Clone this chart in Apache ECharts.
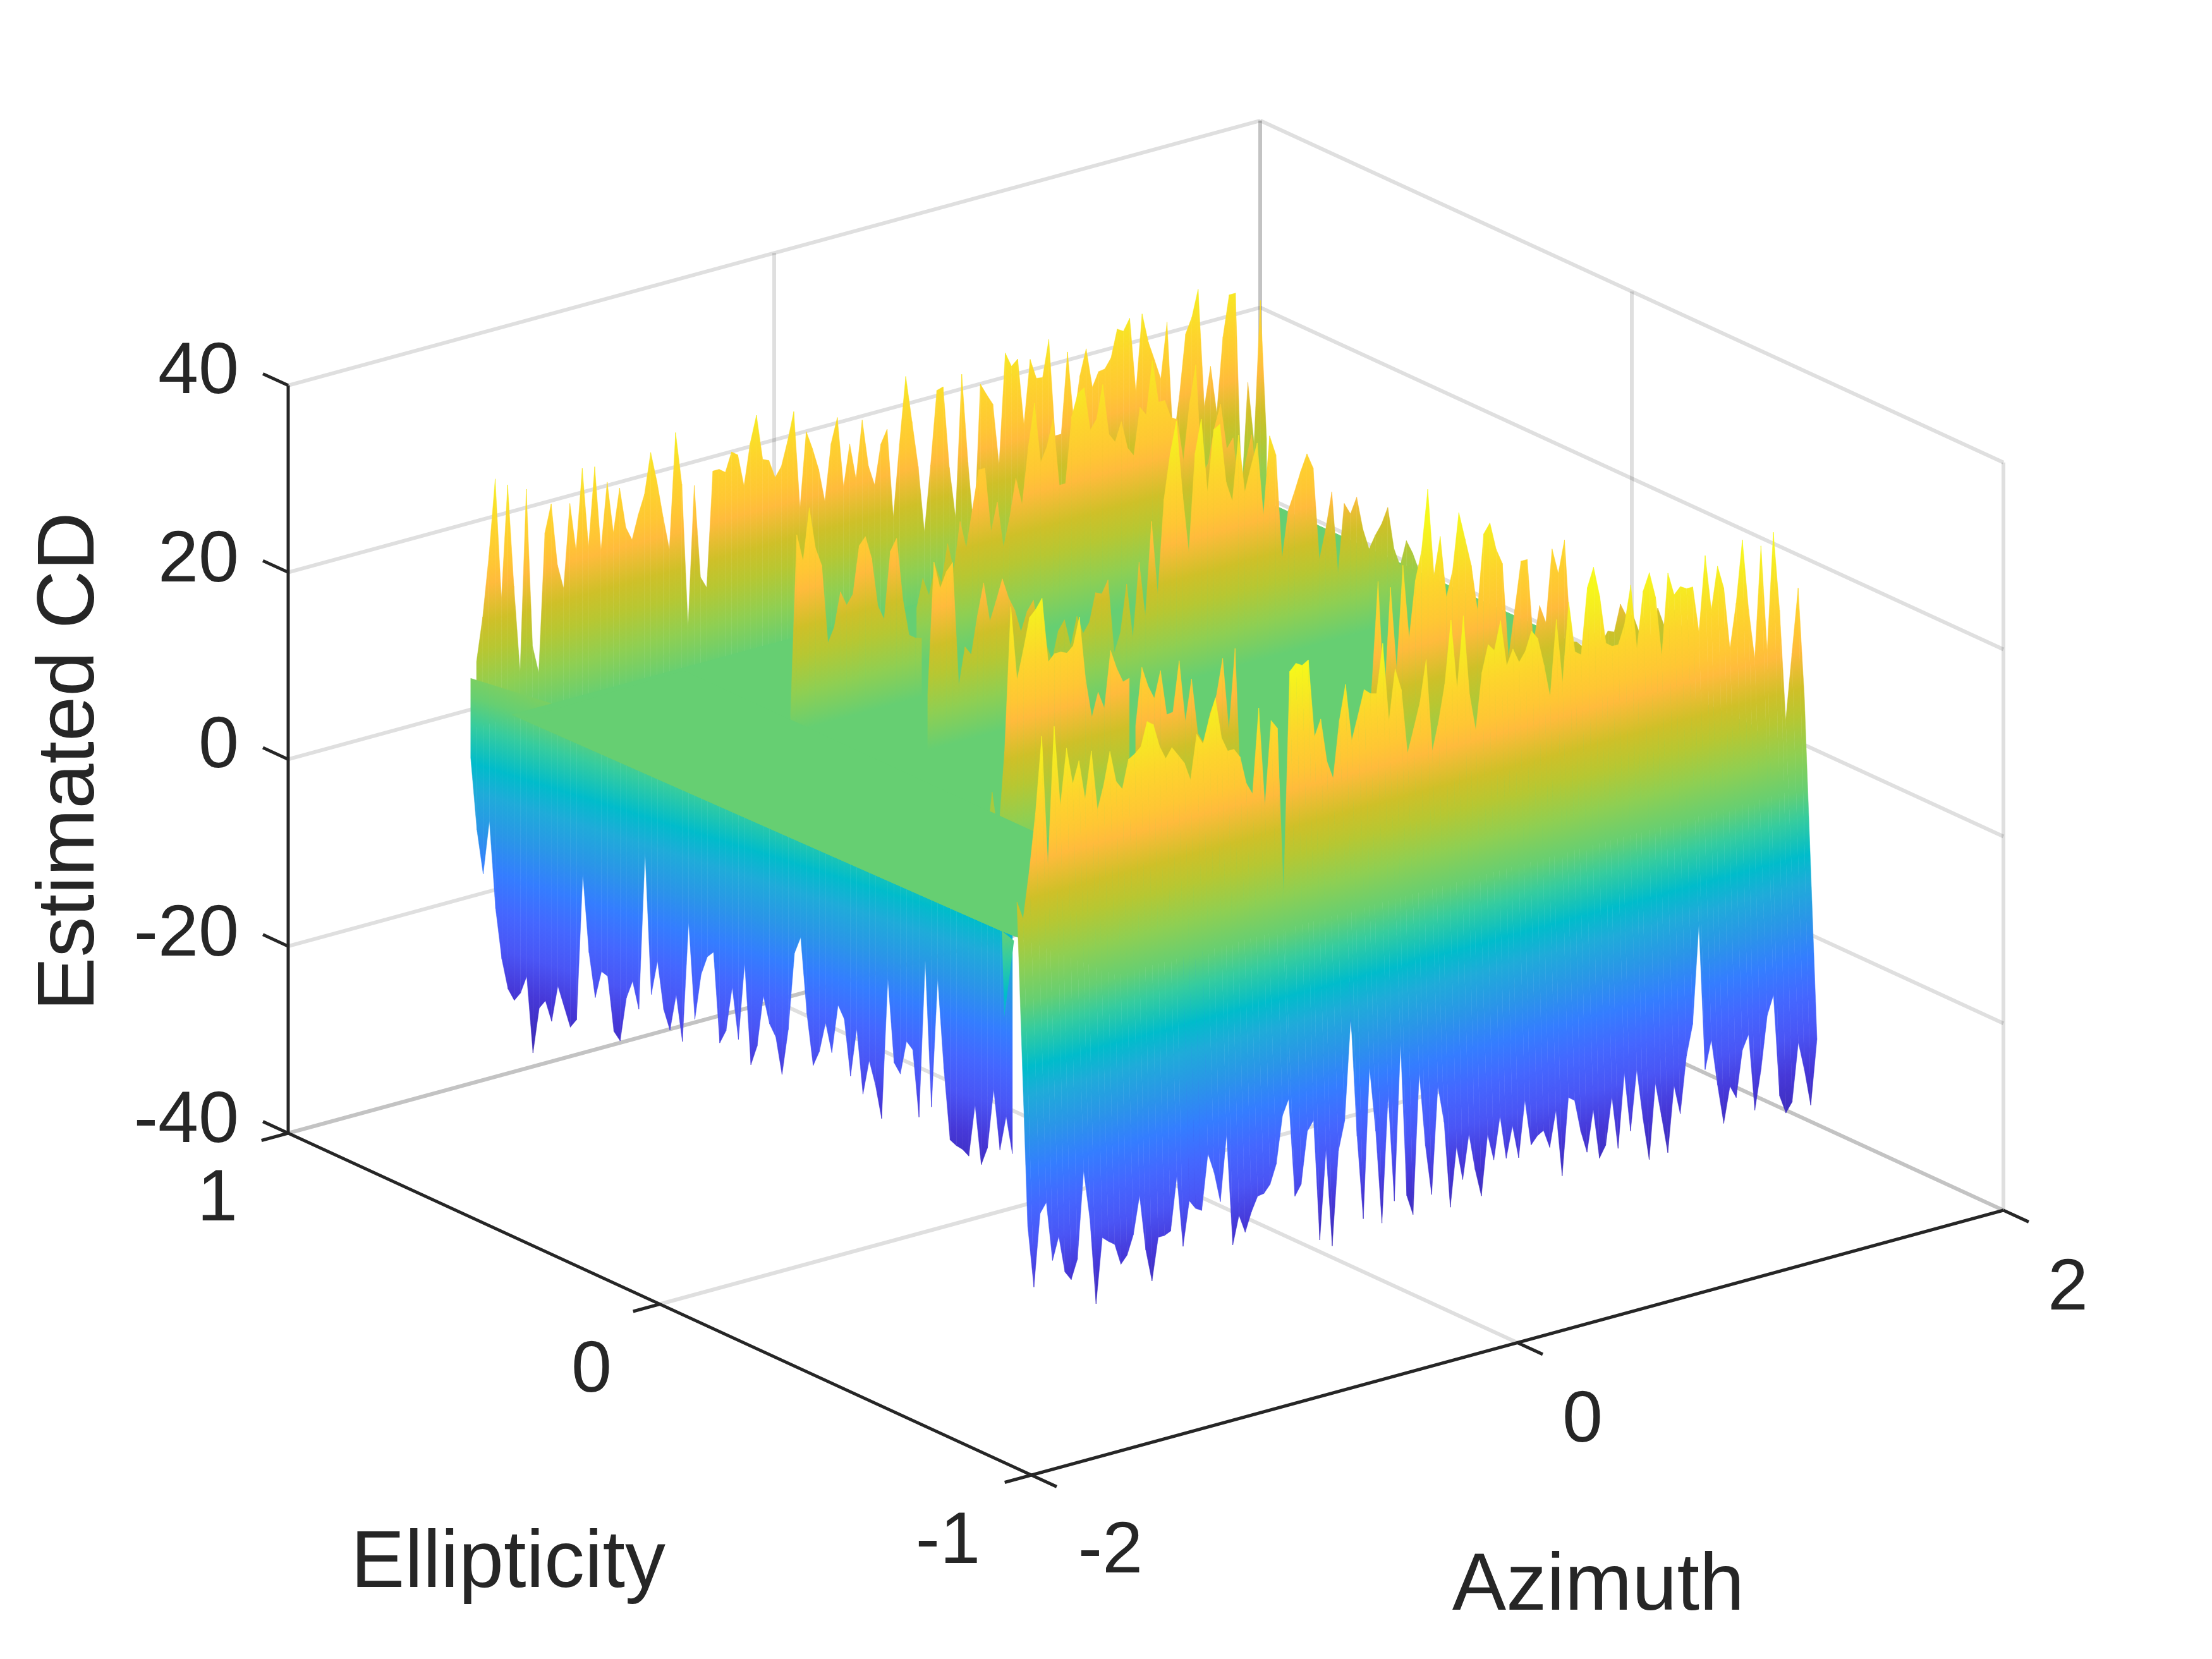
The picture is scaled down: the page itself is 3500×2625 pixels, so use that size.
<!DOCTYPE html>
<html>
<head>
<meta charset="utf-8">
<title>Estimated CD surface</title>
<style>html,body{margin:0;padding:0;background:#fff}#chart{width:3500px;height:2625px}</style>
<script src="https://cdn.jsdelivr.net/npm/echarts@6/dist/echarts.min.js"></script>
</head>
<body>
<div id="chart"></div>
<script>
// ---------- tick labels ----------
const azimuthTicks = [-2, 0, 2];
const ellipticityTicks = [-1, 0, 1];
const cdTicks = [-40, -20, 0, 20, 40];

// ---------- surface values (Estimated CD) ----------
const rearRow = [7,11.6,18,26,13,25,14,4.6,24,7,4,18.8,21.7,15,12.3,21.2,16,24.6,16,24.4,15.3,22.4,16.8,21.4,17,15.5,18,20,24.3,21,17,13.4,25.7,20,4.5,19.5,9.5,8.2,20.5,20.5,20,22,21.5,18,22.4,25.2,20.3,20,18,19,21.5,24.5,14,22,20,17.6,14,20,22.6,15,19.4,15.5,21.6,16.5,14.3,18.5,19.9,10.3,18,25,20,15,7.8,14.8,22.6,22.8,14,8.5,23.6,14,6,22,20.7,19.5,12.8,24.6,23,23.6,16.4,23.2,21,20.9,24.8,14.3,14.3,22.9,15.4,20,22.7,18.4,19.9,20,21,23.9,23.5,24.7,16.6,24.8,21.6,19.5,17.3,23.2,10,15,21.4,23,25.8,13,17.2,12,20,24.3,24.3,2.6,14.4,7.7,22.8,7.8];
const rearInnerRow = [6,9,7,10,8,12,9,14,11,15,19,19,12,15,10,13,17,14,20,24.5,18,19.5,22.3,15,15,22,24.3,24.7,20,21,24.5,19,18,20,17,16,21,20,25.6,21,21,19,18.6,14,20,23.9,12,13,16.6,19,14,15,9,12,14.8,9];
const middleLeftRow = [2,21,18,23.5,19,17,8.5,10,13.6,12,13,18,18.8,16.3,11,9.4,16.5,17.7,11,7,6.5,6.3];
const middleRow = [6,20,17,18.6,19.4,6,10,9,13,16.3,12,14,16.2,14,12.5,10,12,13,9,8,6,9,10,7,10,8,9,12,11.7,13,5,7,12,6,14,8,18,10,20,24.7,28,20,13.6,24,27.5,19.5,26,26.4,20,17.8,24.7,18.4,21,23.3,15.4,23.7,21.5,10.2,15.2,17,19,20.7,19,9,12,15.9,7,14.3,13,14.6,11,8.7,10,11,12.6,8,6,8.5,7,5];
const forwardLeftRow = [2,8,3,12,27.3,19.3,22.3,25.6,26.3,27.3,20.3,21,21,20.7,21.3,24.2,17.3,13.1,15.6,13.7,19.7,17.6,16,16.2];
const forwardRow = [14.6,20.7,18.5,17,19.8,14.9,15,20.3,13.6,18,12,10.7,13.8,15.5,19.3,11.4,20,3,0,0,0,0,0,0,0,0,0,0,0,0,0,0,0,0,0,0,2,5,12,23,10,22,13,24,16,22,25,31.4,22,26,19.3,22,28,25,22,17,25,26,23,21.3,11,16,21,21,11.8,15.7,13.7,21.4,18.6,22,11,10.7,10,12,11,10,11,10.7,13.5,12,12,10,11,9,12,10,12,11,9,10,8.4];
const frontRowUpper = [11,9,14,20,28,14,28.7,20,26,22,24.3,20,25,18.5,21,24.4,21,20,23,23.4,24,26.5,26,23.5,22,23,22,21,19,23.7,22.5,25,27,22.6,21,21,20,17,15.7,24.7,14,23,22,4,27.7,28.4,28,28.4,20,21.7,17,15,21,24.7,18.5,21,23.6,23,22.8,28,19.5,24.9,22.5,15.5,18,20.6,25,15,18,21.8,28.5,21,28.6,20,16,22,24.8,24,27,22,23.6,22,23,25,24,21,17.4,25.5,18.5,27,21.5,21,28,30,26.7,21.5,21,21,23,27,20,26,27.8,25,18.5,27.2,24.7,25.4,25,25,20,28,22,26.5,24,17.3,22,28.6,21,15.5,27.4,16,28.5,20,8,15,21.8,10];
const frontRowLower = [-24,-30.7,-23,-22,-28.4,-26,-30,-31,-29,-19.7,-25,-34.3,-27.4,-28,-28.5,-30.8,-30,-28,-24,-30,-33.5,-29,-29,-28.7,-23,-30.7,-26,-27,-27.4,-21.5,-23.7,-27,-20,-32,-29,-31,-29,-27.5,-27.4,-26.6,-24.6,-19.6,-18,-28.6,-27.5,-22,-21,-34,-24.5,-35,-25,-22,-11,-24,-33,-17,-24,-34,-20.5,-32,-15.4,-31.8,-34,-19,-27,-32.4,-21,-25,-34.3,-28,-31.7,-27,-31,-34,-27.6,-30.5,-26,-30.7,-27.4,-31,-25,-30,-29.2,-28.8,-30.8,-27,-34.2,-26,-26.5,-30,-32.4,-28,-33.4,-32.2,-27.2,-32.9,-25,-31.4,-25,-30.4,-35,-27,-30.8,-34.8,-27.8,-31,-25,-21.8,-11.3,-27,-24,-29,-33.3,-29.5,-30.9,-26,-24.5,-32.8,-28.6,-23,-21,-32,-34,-33,-26.8,-30,-33.9,-27];
const sideRowLower = [-6.5,-14,-18.5,-12.6,-21.8,-27,-30,-31,-30,-28,-36,-31,-30,-32,-28,-30,-32,-31,-15.2,-23.4,-28,-25,-25.3,-31,-31.8,-27,-25,-27.8,-10.8,-25.8,-22,-27,-29,-25,-29.8,-16.8,-27,-22,-19.9,-19.2,-28.7,-27.2,-22.3,-27.7,-19.3,-30,-27.8,-22.2,-25,-26.2,-30,-25,-16.6,-14.7,-22.7,-28,-26.3,-23,-26,-20.7,-22,-27.9,-22.6,-29.4,-25.6,-28,-31.4,-16.2,-25,-26,-22.3,-23,-30,-13,-28.5,-14.5,-24,-31.4,-31.8,-32,-32.5,-26.8,-33,-31,-24.5,-30.8,-27,-30.8];
const forwardHangLower = [-30,-37.5,-38.5,-38.9,-30];
const forwardHangRim = -10;
const sideRowRim = 2;
const plateauLevel = 0;
const plateauCorners = [[-1.17,0.94],[1.976,0.94],[1.976,-0.345],[1.70,-0.62],[-1.07,-0.62],[-1.12,-0.345]];
const wedgeCorners = [[-1.17,0.913],[-0.48,0.93],[-0.48,-0.62],[-1.07,-0.62],[-1.12,-0.345]];
const cornerSliver = [[-1.12,-0.345,0],[-1.11,-0.345,-9.3],[-1.07,-0.345,-1.4]];
const notchSliver = [[0.48,-0.227,-19],[0.495,-0.227,-19],[0.506,-0.227,-26]];

// ---------- colour scale: value -> colour ----------
const colourValues = [-40,-36,-30,-26,-22,-18,-14,-10,-7,-3,0,4,8,11,15,17,21,25,28,32];
const colourHex = ['#38249f','#3a28b0','#4638d8','#4a55f5','#4467ff','#347dff','#2a95e8','#1fabd9','#00bccb','#36cc9e','#66cf72','#8fcf52','#b7c732','#cfc028','#ffbb3c','#ffc634','#fdd52c','#f6ea22','#f6f81a','#f6f81a'];
const zLo = -40, zHi = 32;
const colourStops = colourValues.map((v, i) => ({offset: (v - zLo) / (zHi - zLo), color: colourHex[i]}));

// ---------- view: azimuth, ellipticity, CD -> page position ----------
function project(a, e, z) {
  return [1632 + 384.5 * (a + 2) - 588 * (e + 1),
          2334 - 104.75 * (a + 2) - 270.5 * (e + 1) - 14.79 * (z + 40)];
}
function zFill(api, from, to) {
  const p0 = project(from[0], from[1], 0), p1 = project(to[0], to[1], 0);
  let dx = p1[0] - p0[0], dy = p1[1] - p0[1];
  const len = Math.hypot(dx, dy); dx /= len; dy /= len;
  const nx = -dy, ny = dx;
  const s = project(from[0], from[1], zLo), t = project(from[0], from[1], zHi);
  const d = (t[0] - s[0]) * nx + (t[1] - s[1]) * ny;
  const a = api.coord(s), b = api.coord([s[0] + nx * d, s[1] + ny * d]);
  return {type: 'linear', x: a[0], y: a[1], x2: b[0], y2: b[1], global: true, colorStops: colourStops};
}

function rowSeries(upper, lower, top, bottom) {
  const n = upper.length;
  const m = Array.isArray(lower) ? lower.length : n;
  const lowAt = i => Array.isArray(lower) ? lower[i] : lower;
  const at = (r, i, c) => {
    const u = i / (c - 1);
    return [r.a0 + (r.a1 - r.a0) * u, r.e0 + (r.e1 - r.e0) * u];
  };
  return {
    type: 'custom', coordinateSystem: 'cartesian2d', clip: false, silent: true, animation: false,
    data: upper.map((v, i) => [i, v]),
    renderItem(params, api) {
      const i = params.dataIndex;
      if (i >= n - 1) return null;
      const t0 = at(top, i, n), t1 = at(top, i + 1, n);
      const b0 = at(bottom, i, m), b1 = at(bottom, i + 1, m);
      const pts = [
        project(t0[0], t0[1], upper[i]), project(t1[0], t1[1], upper[i + 1]),
        project(b1[0], b1[1], lowAt(i + 1)), project(b0[0], b0[1], lowAt(i))
      ].map(p => api.coord(p));
      const fill = zFill(api, [top.a0, top.e0], [top.a1, top.e1]);
      return {type: 'polygon', shape: {points: pts}, style: {fill, stroke: fill, lineWidth: 0.5}};
    }
  };
}
function flatSeries(corners, level) {
  return {
    type: 'custom', coordinateSystem: 'cartesian2d', clip: false, silent: true, animation: false,
    data: [[0, level]],
    renderItem(params, api) {
      return {type: 'polygon', shape: {points: corners.map(c => api.coord(project(c[0], c[1], level)))},
        style: {fill: '#66cf72', stroke: '#66cf72', lineWidth: 1}};
    }
  };
}
function sliverSeries(points) {
  return {
    type: 'custom', coordinateSystem: 'cartesian2d', clip: false, silent: true, animation: false,
    data: [[0, 0]],
    renderItem(params, api) {
      const e = points[0][1];
      return {type: 'polygon', shape: {points: points.map(c => api.coord(project(c[0], c[1], c[2])))},
        style: {fill: zFill(api, [-2, e], [2, e])}};
    }
  };
}

// ---------- box, grid, axes ----------
const gridLines = [], axisLines = [];
const aMin = azimuthTicks[0], aMax = azimuthTicks[azimuthTicks.length - 1];
const eMin = ellipticityTicks[0], eMax = ellipticityTicks[ellipticityTicks.length - 1];
const zMin = cdTicks[0], zMax = cdTicks[cdTicks.length - 1];
cdTicks.forEach(z => {
  gridLines.push([[aMin, eMax, z], [aMax, eMax, z]]);
  gridLines.push([[aMax, eMax, z], [aMax, eMin, z]]);
});
azimuthTicks.forEach(a => {
  if (a !== aMin) gridLines.push([[a, eMax, zMin], [a, eMax, zMax]]);
  if (a !== aMin) gridLines.push([[a, eMin, zMin], [a, eMax, zMin]]);
});
ellipticityTicks.forEach(e => {
  gridLines.push([[aMax, e, zMin], [aMax, e, zMax]]);
  if (e !== eMin) gridLines.push([[aMin, e, zMin], [aMax, e, zMin]]);
});
axisLines.push([[aMin, eMax, zMin], [aMin, eMax, zMax]]);
axisLines.push([[aMin, eMax, zMin], [aMin, eMin, zMin]]);
axisLines.push([[aMin, eMin, zMin], [aMax, eMin, zMin]]);
const tickA = 0.11, tickE = 0.068;
cdTicks.forEach(z => axisLines.push([[aMin, eMax, z], [aMin, eMax + tickE, z]]));
ellipticityTicks.forEach(e => axisLines.push([[aMin, e, zMin], [aMin - tickA, e, zMin]]));
azimuthTicks.forEach(a => axisLines.push([[a, eMin, zMin], [a, eMin - tickE, zMin]]));

function lineSeries(list, stroke, width) {
  return {
    type: 'custom', coordinateSystem: 'cartesian2d', clip: false, silent: true, animation: false,
    data: list.map((l, i) => [i, 0]),
    renderItem(params, api) {
      const l = list[params.dataIndex];
      const p = api.coord(project(l[0][0], l[0][1], l[0][2]));
      const q = api.coord(project(l[1][0], l[1][1], l[1][2]));
      return {type: 'line', shape: {x1: p[0], y1: p[1], x2: q[0], y2: q[1]}, style: {stroke, lineWidth: width, fill: null}};
    }
  };
}

// ---------- text ----------
const labelFont = '"Liberation Sans", Arial, sans-serif';
const texts = [];
[[-40,1775],[-20,1480],[0,1182],[20,888],[40,590]].forEach(([v, y]) => texts.push({t: String(v), x: 378, y, align: 'right', size: 115}));
[[1,344,1899],[0,936,2170],[-1,1500,2441]].forEach(([v, x, y]) => texts.push({t: String(v), x, y, align: 'center', size: 115}));
[[-2,1757,2456],[0,2504,2249],[2,3272,2040]].forEach(([v, x, y]) => texts.push({t: String(v), x, y, align: 'center', size: 115}));
texts.push({t: 'Ellipticity', x: 804, y: 2476, align: 'center', size: 128});
texts.push({t: 'Azimuth', x: 2529, y: 2512, align: 'center', size: 128});
texts.push({t: 'Estimated CD', x: 113, y: 1205, align: 'center', size: 128, rot: Math.PI / 2});
const textSeries = {
  type: 'custom', coordinateSystem: 'cartesian2d', clip: false, silent: true, animation: false,
  data: texts.map((l, i) => [i, 0]),
  renderItem(params, api) {
    const l = texts[params.dataIndex];
    const p = api.coord([l.x, l.y]);
    return {type: 'text', x: p[0], y: p[1], rotation: l.rot || 0,
      style: {text: l.t, fill: '#262626', font: l.size + 'px ' + labelFont, align: l.align, verticalAlign: 'middle'}};
  }
};

// ---------- rows: where each row sits in azimuth and ellipticity ----------
const rowRear   = {a0: -1.332, a1: 1.919, e0: 0.93, e1: 0.93};
const rowInner  = {a0: 0.158, a1: 1.562, e0: 0.72, e1: 0.72};
const rowMidLeft= {a0: -0.552, a1: -0.013, e0: 0.595, e1: 0.595};
const rowMiddle = {a0: -0.298, a1: 1.723, e0: 0.392, e1: 0.392};
const rowFwdLeft= {a0: -0.811, a1: -0.221, e0: -0.1, e1: -0.1};
const rowForward= {a0: -0.389, a1: 1.913, e0: -0.227, e1: -0.227};
const rowHang   = {a0: -0.2, a1: -0.095, e0: -0.227, e1: -0.227};
const rowFront  = {a0: -1.4954, a1: 1.745, e0: -0.631, e1: -0.631};
const rowFrontB = {a0: -1.451, a1: 1.797, e0: -0.631, e1: -0.631};
const rowSide   = {a0: -1.1785, a1: -0.727, e0: 1.046, e1: -0.1164};

const chart = echarts.init(document.getElementById('chart'), null, {renderer: 'canvas'});
chart.setOption({
  animation: false,
  backgroundColor: '#ffffff',
  grid: {left: 0, right: 0, top: 0, bottom: 0},
  xAxis: {type: 'value', min: 0, max: 3500, show: false},
  yAxis: {type: 'value', min: 0, max: 2625, inverse: true, show: false},
  series: [
    lineSeries(gridLines, 'rgba(38,38,38,0.15)', 6),
    lineSeries(axisLines, '#262626', 5),
    rowSeries(rearRow, plateauLevel, rowRear, rowRear),
    rowSeries(sideRowLower.map(() => sideRowRim), sideRowLower, rowSide, rowSide),
    flatSeries(plateauCorners, plateauLevel),
    sliverSeries(cornerSliver),
    rowSeries(rearInnerRow, plateauLevel, rowInner, rowInner),
    rowSeries(middleLeftRow, plateauLevel, rowMidLeft, rowMidLeft),
    rowSeries(middleRow, plateauLevel, rowMiddle, rowMiddle),
    sliverSeries(notchSliver),
    rowSeries(forwardHangLower.map(() => forwardHangRim), forwardHangLower, rowHang, rowHang),
    rowSeries(forwardLeftRow, plateauLevel, rowFwdLeft, rowFwdLeft),
    rowSeries(forwardRow, plateauLevel, rowForward, rowForward),
    flatSeries(wedgeCorners, plateauLevel),
    rowSeries(frontRowUpper, frontRowLower, rowFront, rowFrontB),
    textSeries
  ]
});
</script>
</body>
</html>
